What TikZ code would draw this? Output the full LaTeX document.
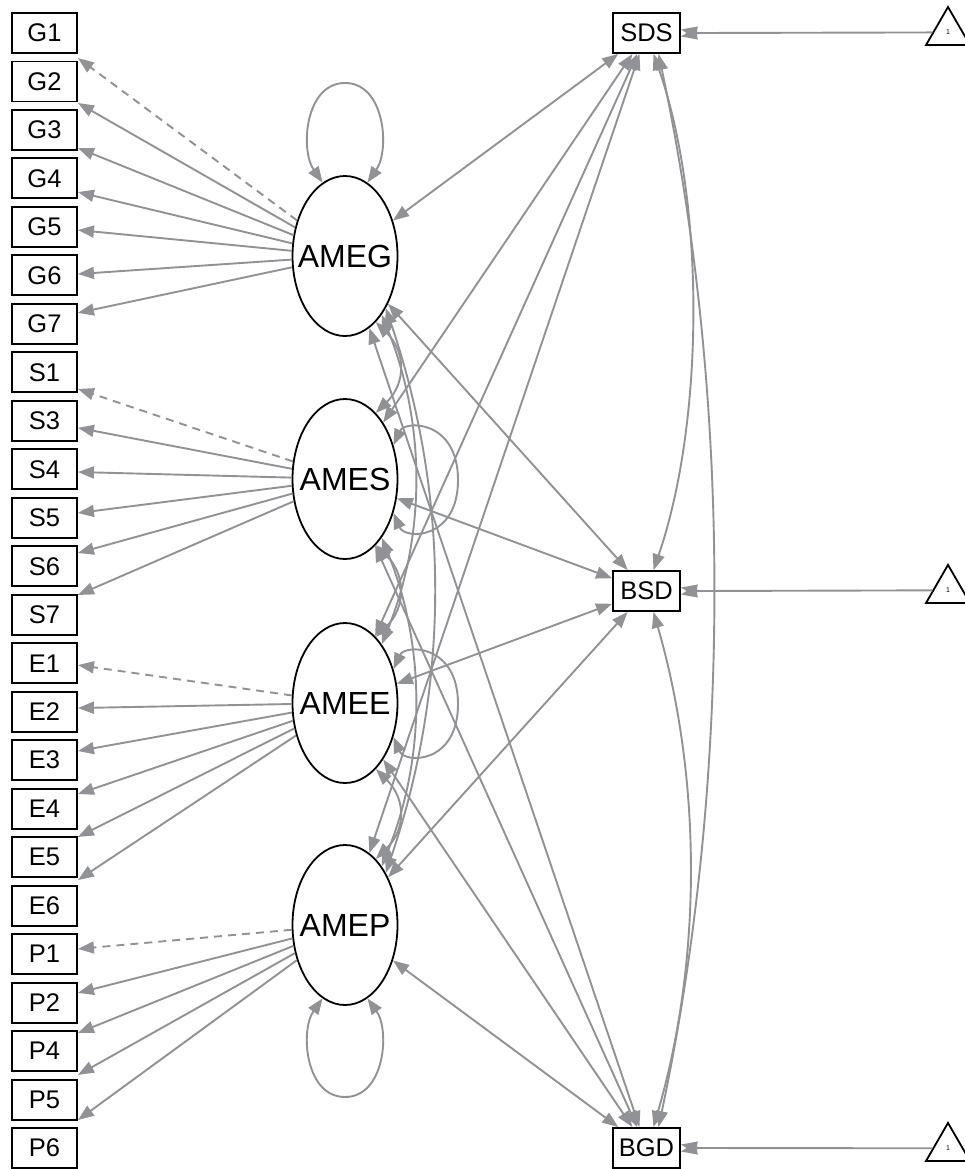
\documentclass[tikz,border=0pt]{standalone}
\usepackage{fontspec}
\setmainfont{Liberation Sans}
\usetikzlibrary{arrows.meta,shapes.geometric,calc}
\definecolor{eg}{RGB}{144,146,150}
\begin{document}
\begin{tikzpicture}[x=1pt,y=-1pt,
  ind/.style={draw=black,line width=1.9pt,minimum width=65pt,minimum height=40pt,inner sep=0pt,font=\fontsize{25.5}{26}\selectfont},
  obs/.style={ind,minimum width=67pt},
  lat/.style={draw=black,ellipse,line width=1.8pt,minimum width=105pt,minimum height=160pt,inner sep=0pt},
  lattext/.style={font=\fontsize{32}{32}\selectfont,inner sep=0pt},
  tri/.style={draw=black,regular polygon,regular polygon sides=3,minimum size=50.8pt,inner sep=0pt,line width=1.8pt,font=\fontsize{7}{7}\selectfont},
  ln/.style={draw=eg,line width=1.9pt},
  arr/.style={ln,-{Triangle[length=16pt,width=12pt]}},
  dbl/.style={ln,{Triangle[length=16pt,width=12pt]}-{Triangle[length=16pt,width=12pt]}},
  dsh/.style={arr,dash pattern=on 8pt off 6pt},
]
\useasboundingbox (0,0) rectangle (965,1169);

% indicator boxes
\foreach \n/\k in {G1/0,G2/1,G3/2,G4/3,G5/4,G6/5,G7/6,S1/7,S3/8,S4/9,S5/10,S6/11,S7/12,E1/13,E2/14,E3/15,E4/16,E5/17,E6/18,P1/19,P2/20,P4/21,P5/22,P6/23}
  \node[ind] (\n) at (44.5,{33+48.48*\k}) {\n};

% observed outcomes
\node[obs] (SDS) at (646.5,33) {SDS};
\node[obs] (BSD) at (646.5,591) {BSD};
\node[obs] (BGD) at (646.5,1148) {BGD};

% intercept triangles
\node[tri] (T1) at (948,32.4) {1};
\node[tri] (T2) at (948,590.3) {1};
\node[tri] (T3) at (948,1148.3) {1};

% latents
\foreach \l/\y in {AMEG/256,AMES/479,AMEE/703,AMEP/925}{
  \node[lat] (\l) at (345,\y) {};
  \node[lattext] (\l t) at (345,\y) {\l};
}

% loadings
\draw[dsh] (AMEG) -- ($(G1.east)+(0,25)$);
\foreach \n/\o in {G2/21.5,G3/18,G4/13.6,G5/3.1,G6/-1.4,G7/-11}
  \draw[arr] (AMEG) -- ($(\n.east)+(0,\o)$);
\draw[dsh] (AMES) -- ($(S1.east)+(0,16.6)$);
\foreach \n/\o in {S3/7,S4/2.7,S5/-4.8,S6/-13.3,S7/-19.8}
  \draw[arr] (AMES) -- ($(\n.east)+(0,\o)$);
\draw[dsh] (AMEE) -- ($(E1.east)+(0,1.8)$);
\foreach \n/\o in {E2/-3.7,E3/-9.2,E4/-14.7,E5/-20.2,E6/-25.6}
  \draw[arr] (AMEE) -- ($(\n.east)+(0,\o)$);
\draw[dsh] (AMEP) -- ($(P1.east)+(0,-5.2)$);
\foreach \n/\o in {P2/-9.7,P4/-18.1,P5/-24.6,P6/-28}
  \draw[arr] (AMEP) -- ($(\n.east)+(0,\o)$);

% latent - outcome covariances
\foreach \l in {AMEG,AMES,AMEE,AMEP}
  \foreach \o in {SDS,BSD,BGD}
    \draw[dbl] (\l) -- (\o);

% variance loops
\draw[dbl] (AMEG.107) .. controls (300,150) and (305,83) .. (345,83) .. controls (385,83) and (390,150) .. (AMEG.73);
\draw[dbl] (AMEP.253) .. controls (300,1030) and (305,1097) .. (345,1097) .. controls (385,1097) and (390,1030) .. (AMEP.287);
\draw[dbl] (AMES.35) .. controls (405,420) and (458,420) .. (458,480) .. controls (458,540) and (405,540) .. (AMES.-35);
\draw[dbl] (AMEE.35) .. controls (405,644) and (458,644) .. (458,704) .. controls (458,764) and (405,764) .. (AMEE.-35);

% latent covariances
\draw[dbl] (AMEG.-65) .. controls (406,352) and (406,383) .. (AMES.65);
\draw[dbl] (AMES.-65) .. controls (406,575) and (406,607) .. (AMEE.65);
\draw[dbl] (AMEE.-65) .. controls (406,799) and (406,829) .. (AMEP.65);
\draw[dbl] (AMEG.-58) .. controls (426,424) and (426,535) .. (AMEE.58);
\draw[dbl] (AMES.-58) .. controls (426,647) and (426,757) .. (AMEP.58);
\draw[dbl] (AMEG.-52) .. controls (450,496) and (450,685) .. (AMEP.52);

% outcome covariances
\draw[dbl] ($(SDS.south)+(7,0)$) .. controls (705,200) and (705,420) .. ($(BSD.north)+(7,0)$);
\draw[dbl] ($(SDS.south)+(12,0)$) .. controls (732,400) and (732,780) .. ($(BGD.north)+(12,0)$);
\draw[dbl] ($(BSD.south)+(7,0)$) .. controls (702,780) and (702,960) .. ($(BGD.north)+(7,0)$);

% intercepts
\foreach \t/\o in {T1/SDS,T2/BSD,T3/BGD}{
  \coordinate (\t j) at ($(\o.east)+(18,0)$);
  \draw[ln] (\t) -- (\t j);
  \draw[arr] (\t j) -- ($(\o.east)+(0,-3.5)$);
  \draw[arr] (\t j) -- ($(\o.east)+(0,3.5)$);
}
\end{tikzpicture}
\end{document}
